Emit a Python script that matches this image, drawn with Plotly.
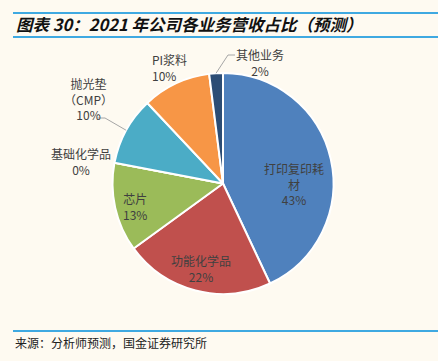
import math
import plotly.graph_objects as go

# ---- data ----
categories = ["打印复印耗材", "功能化学品", "芯片", "基础化学品", "抛光垫（CMP）", "PI浆料", "其他业务"]
label_lines = [["打印复印耗", "材"], ["功能化学品"], ["芯片"], ["基础化学品"], ["抛光垫", "（CMP）"], ["PI浆料"], ["其他业务"]]
values = [43, 22, 13, 0, 10, 10, 2]
colors = ["#4F81BD", "#C0504D", "#9BBB59", "#9BBB59", "#4BACC6", "#F79646", "#2C4D75"]
title_text = "图表 30：2021 年公司各业务营收占比（预测）"
source_text = "来源：分析师预测，国金证券研究所"

# ---- layout constants (pixels) ----
W, H = 438, 361
CX, CY, R = 223, 183.5, 110.5
BG = "#FEFAF1"
LINE_BLUE = "#3FA9E1"
FONT = "Noto Sans CJK SC"

# label placement (centre in px, alignment) per category
label_pos = [(294, 184, "center"), (201, 268, "center"), (135, 206, "center"),
             (81, 161, "center"), (88, 99, "center"), (150, 67, "left"), (260, 62, "center")]
# leader lines: (text-end x, y, elbow x) for labels that have one
leaders = {4: (97, 118, 105), 6: (235, 55, 228)}


def px(x):
    return x / W


def py(y):
    return 1 - y / H


fig = go.Figure(go.Pie(
    labels=categories,
    values=values,
    sort=False,
    direction="clockwise",
    rotation=0,
    marker=dict(colors=colors, line=dict(color="white", width=2)),
    textinfo="none",
    hoverinfo="label+percent",
    domain=dict(x=[px(CX - 150), px(CX + 150)], y=[py(CY + R), py(CY - R)]),
    showlegend=False,
))

total = sum(values)
annotations = []
shapes = []
cum = 0
for i, (cat, v) in enumerate(zip(categories, values)):
    pct = v / total * 100
    mid = (cum + v / 2) / total
    cum += v
    lx, ly, al = label_pos[i]
    text = "<br>".join(label_lines[i] + [f"{pct:.0f}%"])
    annotations.append(dict(
        x=px(lx), y=py(ly), xref="paper", yref="paper",
        xanchor="left" if al == "left" else "center", yanchor="middle",
        text=text, showarrow=False, align=al,
        font=dict(family=FONT, size=12, color="#404040"),
    ))
    if i in leaders:
        tx, ty, ex = leaders[i]
        th = mid * 2 * math.pi
        ex2 = CX + R * math.sin(th)
        ey2 = CY - R * math.cos(th)
        shapes.append(dict(
            type="path", xref="paper", yref="paper",
            path=f"M {px(tx)} {py(ty)} L {px(ex)} {py(ty)} L {px(ex2)} {py(ey2)}",
            line=dict(color="#A6A6A6", width=1),
        ))

# title and source
annotations.append(dict(
    x=px(14), y=py(24), xref="paper", yref="paper", xanchor="left", yanchor="middle",
    text=f"<b><i>{title_text}</i></b>", showarrow=False,
    font=dict(family=FONT, size=16.5, color="#111111"),
))
annotations.append(dict(
    x=px(13), y=py(342), xref="paper", yref="paper", xanchor="left", yanchor="middle",
    text=source_text, showarrow=False,
    font=dict(family=FONT, size=12, color="#222222"),
))
for yy in (13, 37, 331):
    shapes.append(dict(type="line", xref="paper", yref="paper",
                       x0=px(13), x1=1, y0=py(yy), y1=py(yy),
                       line=dict(color=LINE_BLUE, width=2)))

fig.update_layout(
    width=W, height=H,
    margin=dict(l=0, r=0, t=0, b=0),
    paper_bgcolor=BG, plot_bgcolor=BG,
    annotations=annotations, shapes=shapes,
)

fig.write_html(
    "out.html",
    config={"displayModeBar": False},
    post_script="document.body.style.margin='0';document.body.style.padding='0';"
                "document.body.style.background='" + BG + "';",
)
